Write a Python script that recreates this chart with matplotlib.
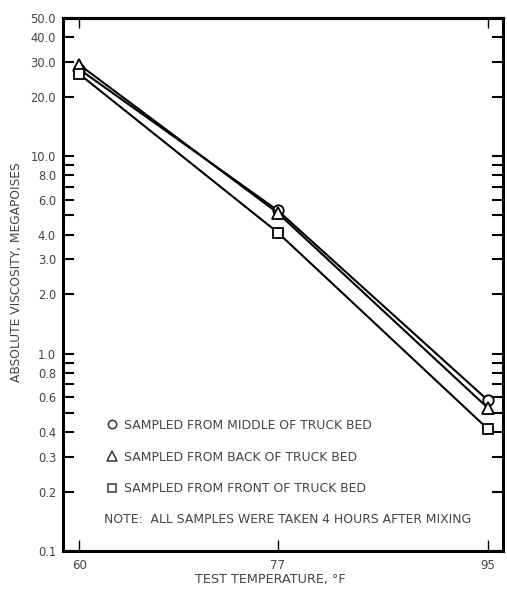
import matplotlib
matplotlib.use("Agg")
import matplotlib.pyplot as plt
from matplotlib.lines import Line2D
from matplotlib.ticker import FixedLocator, NullLocator, NullFormatter

# test temperatures, deg F
temps = [60, 77, 95]

# absolute viscosity, megapoises
middle = [27.5, 5.3, 0.58]
back = [29.0, 5.15, 0.53]
front = [26.0, 4.1, 0.415]

labels = ["SAMPLED FROM MIDDLE OF TRUCK BED",
          "SAMPLED FROM BACK OF TRUCK BED",
          "SAMPLED FROM FRONT OF TRUCK BED"]
note = "NOTE:  ALL SAMPLES WERE TAKEN 4 HOURS AFTER MIXING"

y_ticks = [0.1, 0.2, 0.3, 0.4, 0.5, 0.6, 0.7, 0.8, 0.9, 1.0,
           2.0, 3.0, 4.0, 5.0, 6.0, 7.0, 8.0, 9.0, 10.0,
           20.0, 30.0, 40.0, 50.0]
y_labeled = [0.1, 0.2, 0.3, 0.4, 0.6, 0.8, 1.0, 2.0, 3.0, 4.0,
             6.0, 8.0, 10.0, 20.0, 30.0, 40.0, 50.0]

plt.rcParams['font.family'] = ['DejaVu Sans']
txt = "#444444"

fig = plt.figure(figsize=(5.07, 5.93), dpi=100)
ax = fig.add_axes([63/507, 1 - 551/593, 440/507, 533/593])

series = [(middle, "o", 7.5), (back, "^", 8.5), (front, "s", 7.5)]
for vals, mk, ms in series:
    ax.plot(temps, vals, color="black", lw=1.5, marker=mk, ms=ms,
            mfc="white", mec="black", mew=1.3, zorder=3)

ax.set_yscale("log")
ax.set_ylim(0.1, 50)
ax.set_xlim(58.6, 96.3)

ax.yaxis.set_major_locator(FixedLocator(y_ticks))
ax.yaxis.set_minor_locator(NullLocator())
ax.yaxis.set_minor_formatter(NullFormatter())
ax.set_yticklabels(["%.1f" % v if v in y_labeled else "" for v in y_ticks])
ax.set_xticks(temps)
ax.set_xticklabels([str(t) for t in temps])

ax.tick_params(axis="y", direction="in", length=8, width=1.5,
               right=True, labelsize=8.3, labelcolor=txt, pad=5)
ax.tick_params(axis="x", direction="in", length=8, width=1.0,
               top=False, labelsize=8.5, labelcolor=txt, pad=6)
for side in ax.spines.values():
    side.set_linewidth(2.2)

# short marks along the top edge at the end temperatures
top = ax.secondary_xaxis("top")
top.set_xticks([temps[0], temps[-1]])
top.set_xticklabels([])
top.tick_params(direction="in", length=7, width=1.0)
top.spines["top"].set_linewidth(2.2)

fig.text(17/507, 1 - 272/593, "ABSOLUTE VISCOSITY, MEGAPOISES",
         rotation=90, ha="center", va="center", fontsize=8.8, color=txt)
fig.text(270/507, 1 - 579/593, "TEST TEMPERATURE, \u00b0F",
         ha="center", va="center", fontsize=9.2, color=txt)

handles = [Line2D([], [], ls="none", marker=mk, ms=ms * 0.8, mfc="white",
                  mec="#333333", mew=1.1) for _, mk, ms in series]
ax.legend(handles, labels, loc="upper left", bbox_to_anchor=(0.1, 0.248),
          frameon=False, fontsize=8.9, labelcolor=txt, handlelength=0.8,
          handletextpad=0.6, labelspacing=1.52, borderpad=0, borderaxespad=0)
ax.text(0.094, 0.06, note, transform=ax.transAxes, ha="left", va="center",
        fontsize=8.9, color=txt)

fig.savefig("out.png", dpi=100, facecolor="white")
